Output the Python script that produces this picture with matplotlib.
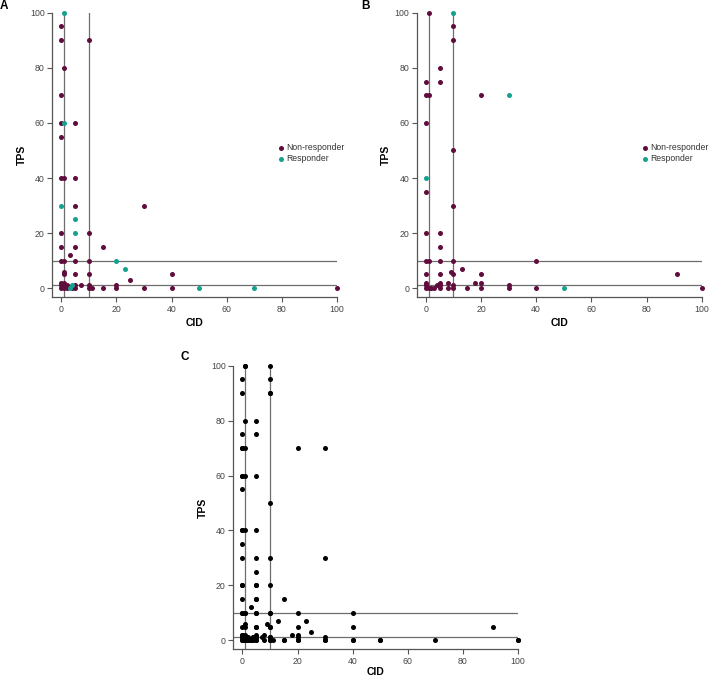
import matplotlib
matplotlib.use('Agg')
import matplotlib.pyplot as plt

plt.rcParams['font.family'] = ['Liberation Sans', 'DejaVu Sans']

# Panel A: (CID, TPS) per patient
a_non_cid = [0, 0, 10, 1, 0, 0, 5, 0, 0, 1, 5, 5, 30, 0, 10, 0, 5, 15, 3, 0, 1, 5, 10,
             1, 1, 5, 10, 25, 40,
             0, 0, 1, 1, 2, 2, 1, 0, 5, 5, 4, 7, 10, 10, 11, 15, 20, 20, 30, 40, 100]
a_non_tps = [95, 90, 90, 80, 70, 60, 60, 55, 40, 40, 40, 30, 30, 20, 20, 15, 15, 15, 12, 10, 10, 10, 10,
             6, 5, 5, 5, 3, 5,
             0, 1, 0, 1, 1, 0, 2, 2, 0, 1, 0, 1, 1, 0, 0, 0, 1, 0, 0, 0, 0]
a_resp_cid = [1, 1, 0, 5, 5, 20, 23, 3, 4, 50, 70]
a_resp_tps = [100, 60, 30, 25, 20, 10, 7, 0, 1, 0, 0]

# Panel B
b_non_cid = [1, 10, 10, 5, 5, 0, 0, 1, 20, 0, 10, 0, 10, 0, 5, 5, 0, 1, 5, 10, 40, 9, 13,
             0, 5, 10, 20, 91, 0, 5, 8, 18, 20,
             0, 0, 1, 2, 3, 4, 5, 5, 8, 10, 10, 15, 20, 30, 30, 40, 100]
b_non_tps = [100, 95, 90, 80, 75, 75, 70, 70, 70, 60, 50, 35, 30, 20, 20, 15, 10, 10, 10, 10, 10, 6, 7,
             5, 5, 5, 5, 5, 2, 2, 2, 2, 2,
             1, 0, 0, 0, 0, 1, 1, 0, 0, 1, 0, 0, 0, 1, 0, 0, 0]
b_resp_cid = [10, 30, 0, 50]
b_resp_tps = [100, 70, 40, 0]

# Panel C: all patients pooled
c_cid = a_non_cid + a_resp_cid + b_non_cid + b_resp_cid
c_tps = a_non_tps + a_resp_tps + b_non_tps + b_resp_tps

cid_cuts = [1, 10]
tps_cuts = [1, 10]
ticks = [0, 20, 40, 60, 80, 100]

NON = '#600c3c'
RESP = '#16a08e'
W, H = 709, 676

fig = plt.figure(figsize=(W / 100, H / 100), dpi=100)


def px_axes(left, top, right, bottom):
    return fig.add_axes([left / W, 1 - bottom / H, (right - left) / W, (bottom - top) / H])


def style(ax, xpad=3):
    ax.set_xlim(-3.3, 100)
    ax.set_ylim(-3.3, 100)
    for s in ['top', 'right']:
        ax.spines[s].set_visible(False)
    for s in ['left', 'bottom']:
        ax.spines[s].set_color('#555555')
        ax.spines[s].set_linewidth(0.9)
    ax.set_xticks(ticks)
    ax.set_yticks(ticks)
    ax.tick_params(direction='out', length=3.4, width=0.8, color='#555555',
                   labelsize=6.3, labelcolor='#444444', pad=2)
    for c in cid_cuts:
        ax.axvline(c, color='#6e6e6e', lw=0.9, zorder=1)
    for t in tps_cuts:
        ax.axhline(t, color='#6e6e6e', lw=0.9, zorder=1)
    ax.set_xlabel('CID', fontsize=7.5, fontweight='bold', labelpad=xpad)
    ax.set_ylabel('TPS', fontsize=7.5, fontweight='bold', labelpad=2.5)


axA = px_axes(52.3, 12.7, 336.7, 297.3)
axB = px_axes(416.7, 12.7, 701.7, 297.3)
axC = px_axes(233.3, 365.7, 518, 649.3)

ms = 13
for ax, nc, nt, rc, rt, lx in [(axA, a_non_cid, a_non_tps, a_resp_cid, a_resp_tps, 279),
                               (axB, b_non_cid, b_non_tps, b_resp_cid, b_resp_tps, 643)]:
    style(ax)
    ax.scatter(nc, nt, s=ms, color=NON, lw=0, zorder=3, clip_on=False, label='Non-responder')
    ax.scatter(rc, rt, s=ms, color=RESP, lw=0, zorder=3, clip_on=False, label='Responder')
    leg = ax.legend(loc='upper left', bbox_to_anchor=(lx / W, 1 - 143 / H),
                    bbox_transform=fig.transFigure, frameon=False, fontsize=6.2,
                    handlelength=0.5, handletextpad=0.35, labelspacing=0.25,
                    borderpad=0, borderaxespad=0)
    for t in leg.get_texts():
        t.set_color('#333333')

style(axC, xpad=1)
axC.scatter(c_cid, c_tps, s=ms, color='black', lw=0, zorder=3, clip_on=False)

for lbl, x, y in [('A', 4, 6), ('B', 365, 6), ('C', 185, 357)]:
    fig.text(x / W, 1 - y / H, lbl, fontsize=8.5, fontweight='bold', ha='center', va='center')

fig.savefig('out.png', dpi=100)
